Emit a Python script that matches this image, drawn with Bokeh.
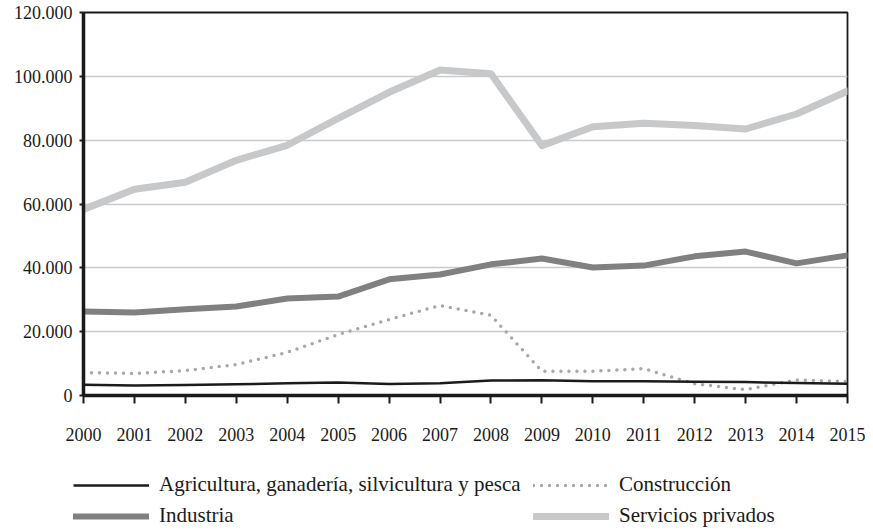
from bokeh.plotting import figure
from bokeh.models import FixedTicker, Legend, LegendItem, Range1d
from bokeh.layouts import column, row
from bokeh.embed import file_html
from bokeh.resources import INLINE

years = list(range(2000, 2016))
agricultura = [3400, 3100, 3300, 3500, 3800, 4100, 3600, 3800, 4700, 4800, 4500, 4500, 4300, 4200, 3900, 3700]
construccion = [7200, 6900, 7800, 9700, 13500, 19100, 23800, 28200, 25100, 7600, 7600, 8400, 3700, 1800, 4900, 4400]
industria = [26300, 26000, 27000, 27900, 30400, 31000, 36400, 37900, 41100, 42900, 40100, 40700, 43600, 45100, 41400, 43900]
servicios = [58300, 64600, 66800, 73700, 78400, 86800, 95000, 102000, 100800, 78300, 84200, 85300, 84600, 83500, 88200, 95400]

y_ticks = [0, 20000, 40000, 60000, 80000, 100000, 120000]
y_tick_labels = ["0", "20.000", "40.000", "60.000", "80.000", "100.000", "120.000"]

labels = ["Agricultura, ganadería, silvicultura y pesca", "Construcción", "Industria", "Servicios privados"]

FONT = "Liberation Serif"

styles = {
    "serv": dict(line_color="#c7c8ca", line_width=7, line_join="round", line_cap="round"),
    "ind": dict(line_color="#808082", line_width=6, line_join="round", line_cap="round"),
    "con": dict(line_color="#a7a8aa", line_width=3.5, line_dash="0 8", line_cap="round"),
    "agr": dict(line_color="#1c1a1a", line_width=2.5, line_join="round"),
}

p = figure(width=865, height=450, output_backend="svg", toolbar_location=None,
           min_border_left=83, min_border_right=18, min_border_top=12, min_border_bottom=55,
           x_range=Range1d(2000, 2015), y_range=Range1d(0, 120000))

p.outline_line_color = "#1a1a1a"
p.outline_line_width = 1.8
p.background_fill_color = "white"
p.border_fill_color = "white"

p.xgrid.visible = False
p.ygrid.grid_line_color = "#cbcbcb"
p.ygrid.grid_line_width = 1.3

p.yaxis.ticker = FixedTicker(ticks=y_ticks)
p.yaxis.major_label_overrides = {t: l for t, l in zip(y_ticks, y_tick_labels)}
p.xaxis.ticker = FixedTicker(ticks=years)
p.xaxis.major_label_overrides = {y: str(y) for y in years}

for ax in (p.xaxis, p.yaxis):
    ax.axis_line_color = "#1a1a1a"
    ax.axis_line_width = 3.5
    ax.major_tick_line_color = "#1a1a1a"
    ax.major_tick_line_width = 2
    ax.minor_tick_line_color = None
    ax.major_tick_in = 0
    ax.major_label_text_font = FONT
    ax.major_label_text_font_size = "18px"
    ax.major_label_text_color = "#1a1a1a"

p.yaxis.major_tick_out = 4
p.yaxis.major_label_standoff = 7
p.xaxis.major_tick_out = 8
p.xaxis.major_label_standoff = 24

p.line(years, servicios, **styles["serv"])
p.line(years, industria, **styles["ind"])
p.line(years, construccion, **styles["con"])
p.line(years, agricultura, **styles["agr"])

# Legend panel (separate canvas below the chart)
lg = figure(width=865, height=80, output_backend="svg", toolbar_location=None,
            min_border=0, x_axis_location=None, y_axis_location=None,
            x_range=Range1d(0, 1), y_range=Range1d(0, 1))
lg.outline_line_color = None
lg.xgrid.visible = False
lg.ygrid.visible = False
lg.background_fill_color = "white"
lg.border_fill_color = "white"

nan = [float("nan")]
k_agr = lg.line(nan, nan, **styles["agr"])
k_con = lg.line(nan, nan, **styles["con"])
k_ind = lg.line(nan, nan, **styles["ind"])
k_serv = lg.line(nan, nan, **styles["serv"])

legend = Legend(items=[
    LegendItem(label=labels[0], renderers=[k_agr]),
    LegendItem(label=labels[2], renderers=[k_ind]),
    LegendItem(label=labels[1], renderers=[k_con]),
    LegendItem(label=labels[3], renderers=[k_serv]),
], ncols=2, location=(73, 2))
legend.border_line_color = None
legend.background_fill_alpha = 0
legend.padding = 0
legend.margin = 0
legend.spacing = 6
legend.glyph_width = 76
legend.glyph_height = 20
legend.label_height = 20
legend.label_width = 368
legend.label_standoff = 10
legend.label_text_font = FONT
legend.label_text_font_size = "21px"
legend.label_text_color = "#1a1a1a"
lg.add_layout(legend, "center")

layout = column(p, row(lg, spacing=0), spacing=0)
open("out.html", "w").write(file_html(layout, INLINE))
